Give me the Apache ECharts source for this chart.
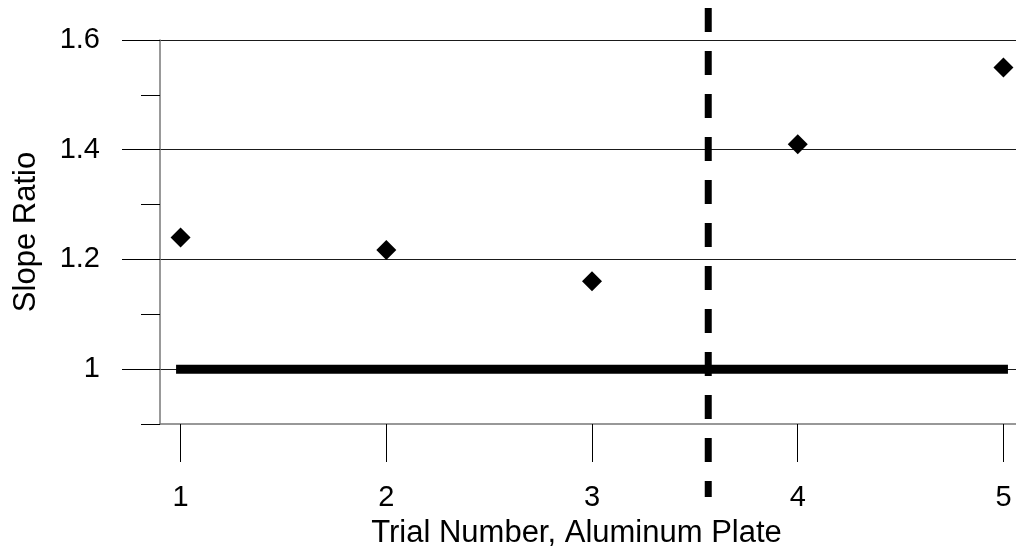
<!DOCTYPE html>
<html>
<head>
<meta charset="utf-8">
<title>Slope Ratio by Trial</title>
<script src="https://cdn.jsdelivr.net/npm/echarts@6/dist/echarts.min.js"></script>
<style>
  html, body { margin: 0; padding: 0; background: #fff; }
  #chart { width: 1016px; height: 555px; }
</style>
</head>
<body>
<div id="chart"></div>
<script>
// Trial data: slope ratio measured on the aluminum plate
const trialNumbers = [1, 2, 3, 4, 5];
const slopeRatios = [1.24, 1.217, 1.16, 1.41, 1.55];

// Axis ticks
const yMajorTicks = [1, 1.2, 1.4, 1.6];
const yMinorTicks = [0.9, 1.1, 1.3, 1.5];

// Reference level (ratio = 1) and the divider between trial groups
const referenceRatio = 1;
const dividerX = 3.565;

const FONT = '"Liberation Sans", Arial, sans-serif';
const X_MIN = 0.9, X_MAX = 5.061;

const chart = echarts.init(document.getElementById('chart'), null, { renderer: 'canvas' });

chart.setOption({
  animation: false,
  backgroundColor: '#ffffff',
  textStyle: { fontFamily: FONT, color: '#000' },
  grid: [
    { left: 160, right: 0, top: 40, bottom: 131 },
    { left: 160, right: 0, top: 8, bottom: 58 }
  ],
  xAxis: [
    {
      gridIndex: 0,
      type: 'value',
      min: X_MIN,
      max: X_MAX,
      axisLine: { show: true, lineStyle: { color: '#777', width: 1.5 } },
      axisTick: {
        show: true, customValues: trialNumbers, length: 38, inside: false,
        lineStyle: { color: '#000', width: 1 }
      },
      axisLabel: {
        customValues: trialNumbers, margin: 59,
        fontSize: 29, color: '#000', fontFamily: FONT
      },
      splitLine: { show: false },
      name: 'Trial Number, Aluminum Plate',
      nameLocation: 'middle',
      nameGap: 94,
      nameTextStyle: { fontSize: 31, color: '#000', fontFamily: FONT, padding: [0, 23, 0, 0] }
    },
    {
      gridIndex: 1,
      type: 'value',
      min: X_MIN,
      max: X_MAX,
      show: false
    }
  ],
  yAxis: [
    {
      gridIndex: 0,
      type: 'value',
      min: 0.9,
      max: 1.6,
      axisLine: { show: true, lineStyle: { color: '#777', width: 1.5 } },
      axisTick: {
        show: true, customValues: yMajorTicks, length: 38, inside: false,
        lineStyle: { color: '#000', width: 1 }
      },
      axisLabel: {
        customValues: yMajorTicks, margin: 60,
        fontSize: 29, color: '#000', fontFamily: FONT
      },
      splitLine: { show: true, lineStyle: { color: '#1a1a1a', width: 1 } },
      name: 'Slope Ratio',
      nameLocation: 'middle',
      nameGap: 118,
      nameTextStyle: { fontSize: 31, color: '#000', fontFamily: FONT }
    },
    {
      gridIndex: 0,
      type: 'value',
      min: 0.9,
      max: 1.6,
      position: 'left',
      offset: 0,
      axisLine: { show: false },
      axisTick: {
        show: true, customValues: yMinorTicks, length: 19, inside: false,
        lineStyle: { color: '#000', width: 1 }
      },
      axisLabel: { show: false },
      splitLine: { show: false }
    },
    {
      gridIndex: 1,
      type: 'value',
      min: 0,
      max: 1,
      show: false
    }
  ],
  series: [
    {
      name: 'Reference',
      type: 'line',
      xAxisIndex: 0,
      yAxisIndex: 0,
      data: [[trialNumbers[0], referenceRatio], [trialNumbers[trialNumbers.length - 1], referenceRatio]],
      symbol: 'none',
      lineStyle: { color: '#000', width: 9, cap: 'square' },
      z: 3
    },
    {
      name: 'Divider',
      type: 'line',
      xAxisIndex: 1,
      yAxisIndex: 2,
      data: [[dividerX, 1], [dividerX, 0]],
      symbol: 'none',
      lineStyle: { color: '#000', width: 7, type: [24, 19] },
      z: 4
    },
    {
      name: 'Slope Ratio',
      type: 'scatter',
      xAxisIndex: 0,
      yAxisIndex: 0,
      data: trialNumbers.map((t, i) => [t, slopeRatios[i]]),
      symbol: 'diamond',
      symbolSize: 20,
      itemStyle: { color: '#000', opacity: 1 },
      z: 5
    }
  ]
});
</script>
</body>
</html>
